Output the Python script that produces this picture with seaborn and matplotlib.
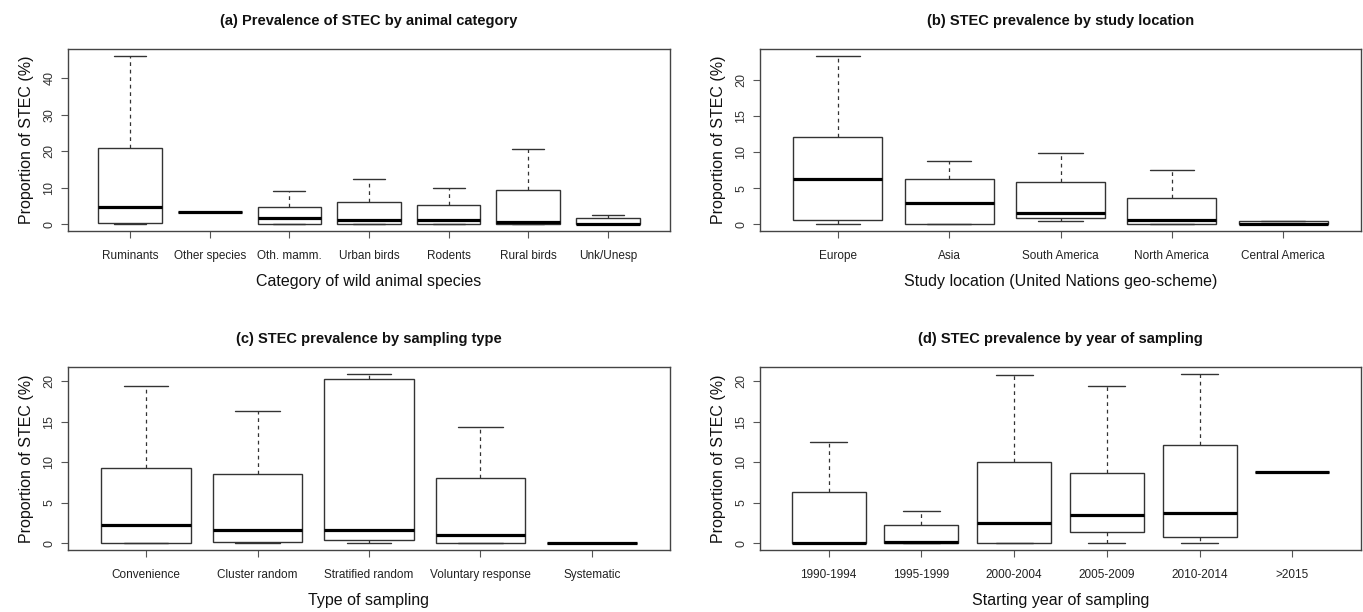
import numpy as np
import pandas as pd
import matplotlib
matplotlib.use("Agg")
import matplotlib.pyplot as plt
from matplotlib.ticker import MultipleLocator
import seaborn as sns

# ---- data: five-number summaries (min, Q1, median, Q3, max) ----
animal_cats = ["Ruminants", "Other species", "Oth. mamm.", "Urban birds",
               "Rodents", "Rural birds", "Unk/Unesp"]
animal_vals = [
    [0.0, 0.4, 4.7, 20.9, 46.1],
    [3.3, 3.3, 3.3, 3.3, 3.3],
    [0.0, 0.0, 1.7, 4.7, 9.2],
    [0.0, 0.0, 1.3, 6.0, 12.5],
    [0.0, 0.0, 1.1, 5.3, 10.0],
    [0.0, 0.0, 0.6, 9.4, 20.7],
    [0.0, 0.0, 0.0, 1.7, 2.4],
]

location_cats = ["Europe", "Asia", "South America", "North America", "Central America"]
location_vals = [
    [0.0, 0.6, 6.2, 12.1, 23.3],
    [0.0, 0.1, 3.0, 6.3, 8.8],
    [0.5, 0.85, 1.6, 5.9, 9.8],
    [0.0, 0.0, 0.6, 3.6, 7.5],
    [0.0, 0.0, 0.0, 0.45, 0.45],
]

sampling_cats = ["Convenience", "Cluster random", "Stratified random",
                 "Voluntary response", "Systematic"]
sampling_vals = [
    [0.0, 0.0, 2.3, 9.3, 19.4],
    [0.0, 0.1, 1.6, 8.5, 16.3],
    [0.0, 0.4, 1.6, 20.3, 20.9],
    [0.0, 0.0, 1.0, 8.0, 14.3],
    [0.0, 0.0, 0.0, 0.0, 0.0],
]

year_cats = ["1990-1994", "1995-1999", "2000-2004", "2005-2009", "2010-2014", ">2015"]
year_vals = [
    [0.0, 0.0, 0.0, 6.3, 12.5],
    [0.0, 0.0, 0.1, 2.3, 4.0],
    [0.0, 0.0, 2.5, 10.0, 20.8],
    [0.0, 1.4, 3.5, 8.6, 19.4],
    [0.0, 0.8, 3.7, 12.1, 20.9],
    [8.8, 8.8, 8.8, 8.8, 8.8],
]

titles = ["(a) Prevalence of STEC by animal category",
          "(b) STEC prevalence by study location",
          "(c) STEC prevalence by sampling type",
          "(d) STEC prevalence by year of sampling"]
xlabels = ["Category of wild animal species",
           "Study location (United Nations geo-scheme)",
           "Type of sampling",
           "Starting year of sampling"]
ylabel = "Proportion of STEC (%)"
ytick_steps = [10, 5, 5, 5]

panels = [(animal_cats, animal_vals), (location_cats, location_vals),
          (sampling_cats, sampling_vals), (year_cats, year_vals)]

# ---- style ----
sns.set_theme(style="white")
plt.rcParams["font.family"] = ["Liberation Sans", "DejaVu Sans"]

W, H = 1363, 612
fig = plt.figure(figsize=(W / 100, H / 100), dpi=100)

# axes rectangles in pixels: (left, top, right, bottom)
rects = [(68, 49, 670, 231), (760, 49, 1361, 231),
         (68, 367, 670, 550), (760, 367, 1361, 550)]

edge = "#333333"

for i, ((cats, vals), (l, t, r, b)) in enumerate(zip(panels, rects)):
    ax = fig.add_axes([l / W, 1 - b / H, (r - l) / W, (b - t) / H])
    df = pd.DataFrame({
        "cat": np.repeat(cats, [len(v) for v in vals]),
        "val": np.concatenate([np.asarray(v, float) for v in vals]),
    })
    sns.boxplot(data=df, x="cat", y="val", order=cats, ax=ax,
                whis=(0, 100), width=0.8, color="white", linecolor=edge,
                linewidth=1.0, fliersize=0, saturation=1,
                medianprops=dict(color="black", linewidth=2.3, solid_capstyle="butt"),
                whiskerprops=dict(color=edge, linestyle=(0, (3, 3)), linewidth=0.9),
                capprops=dict(color=edge, linewidth=1.0),
                boxprops=dict(edgecolor=edge, facecolor="white", linewidth=1.0))
    n = len(cats)
    ax.set_xlim(-0.5 - 0.04 * n, n - 0.5 + 0.04 * n)
    allv = np.concatenate([np.asarray(v, float) for v in vals])
    lo, hi = allv.min(), allv.max()
    span = hi - lo
    ax.set_ylim(lo - 0.04 * span, hi + 0.04 * span)
    ax.yaxis.set_major_locator(MultipleLocator(ytick_steps[i]))

    for s in ax.spines.values():
        s.set_visible(True)
        s.set_color("#444444")
        s.set_linewidth(1.0)
    ax.tick_params(axis="both", which="major", direction="out", length=5,
                   width=0.8, color="#555555", left=True, bottom=True)
    ax.tick_params(axis="x", pad=9)
    ax.tick_params(axis="y", pad=4)
    for lab in ax.get_yticklabels():
        lab.set_rotation(90)
        lab.set_va("center")
        lab.set_fontsize(9)
        lab.set_color("#333333")
    for lab in ax.get_xticklabels():
        lab.set_fontsize(8.5)
        lab.set_color("#222222")

    ax.set_xlabel(xlabels[i], fontsize=11.5, labelpad=8, color="#111111")
    ax.set_ylabel(ylabel, fontsize=11.5, labelpad=7, color="#111111")
    ax.set_title(titles[i], fontsize=10.5, fontweight="bold",
                 pad=17, color="#111111")

fig.savefig("out.png", dpi=100)
